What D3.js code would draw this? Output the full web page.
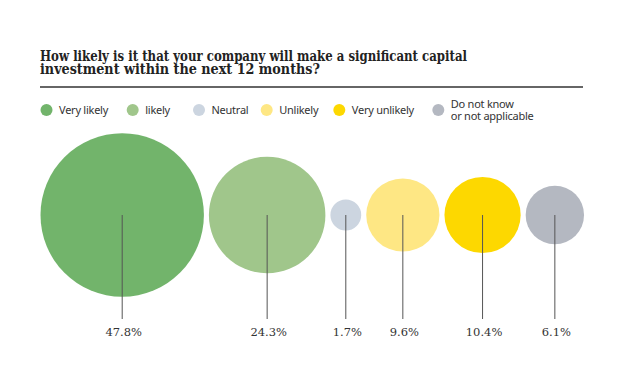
<!DOCTYPE html>
<html>
<head>
<meta charset="utf-8">
<script src="https://cdn.jsdelivr.net/npm/d3@7"></script>
<style>
  html, body { margin: 0; padding: 0; background: #fff; }
  svg { display: block; }
</style>
</head>
<body>
<svg id="chart" width="620" height="383"></svg>
<script>
// ---- data ----
const categories = ["Very likely", "likely", "Neutral", "Unlikely", "Very unlikely", "Do not know or not applicable"];
const legendLines = [["Very likely"], ["likely"], ["Neutral"], ["Unlikely"], ["Very unlikely"], ["Do not know", "or not applicable"]];
const shares = [47.8, 24.3, 1.7, 9.6, 10.4, 6.1];
const valueLabels = ["47.8%", "24.3%", "1.7%", "9.6%", "10.4%", "6.1%"];
const colours = ["#72b46b", "#a0c68b", "#ccd5e0", "#fee784", "#fdd800", "#b4b8c1"];
const titleLines = [
    "How likely is it that your company will make a significant capital",
    "investment within the next 12 months?"
];

const svg = d3.select("#chart");

// title, fitted to the width it has in the original
const titleWidths = [427, 280];
const title = svg.append("text")
    .attr("font-family", "'DejaVu Serif', serif")
    .attr("font-weight", "bold")
    .attr("font-size", 14)
    .attr("fill", "#222");
titleLines.forEach((l, i) => {
    title.append("tspan")
        .attr("x", 40).attr("y", 60.5 + i * 13)
        .attr("textLength", titleWidths[i])
        .attr("lengthAdjust", "spacingAndGlyphs")
        .text(l);
});

svg.append("line")
    .attr("x1", 40).attr("x2", 583)
    .attr("y1", 87).attr("y2", 87)
    .attr("stroke", "#333").attr("stroke-width", 1.5);

// legend
const legendX = [46.5, 132.7, 199, 266.7, 339.3, 438.3];
const legend = svg.append("g")
    .attr("font-family", "'Noto Sans', sans-serif")
    .attr("font-size", 11)
    .attr("letter-spacing", -0.25)
    .attr("fill", "#333");

categories.forEach((c, i) => {
    const g = legend.append("g").attr("transform", `translate(${legendX[i]},110)`);
    g.append("circle").attr("r", 6).attr("fill", colours[i]);
    const lines = legendLines[i];
    const t = g.append("text");
    lines.forEach((l, j) => {
        t.append("tspan")
            .attr("x", 12.5)
            .attr("y", lines.length === 1 ? 4 : -2 + j * 12)
            .text(l);
    });
});

// bubbles: area proportional to share
const r = d3.scaleSqrt().domain([0, d3.max(shares)]).range([0, 81.7]);
const gap = 5;
const centres = [];
let cursor = 40.5;
shares.forEach(v => {
    centres.push(cursor + r(v));
    cursor += 2 * r(v) + gap;
});

const cy = 215;
const bubbles = svg.append("g");
bubbles.selectAll("circle")
    .data(shares)
    .join("circle")
    .attr("cx", (d, i) => centres[i])
    .attr("cy", cy)
    .attr("r", d => r(d))
    .attr("fill", (d, i) => colours[i]);

bubbles.selectAll("line")
    .data(shares)
    .join("line")
    .attr("x1", (d, i) => centres[i])
    .attr("x2", (d, i) => centres[i])
    .attr("y1", cy)
    .attr("y2", 319)
    .attr("stroke", "#555")
    .attr("stroke-width", 1);

bubbles.selectAll("text")
    .data(valueLabels)
    .join("text")
    .attr("x", (d, i) => centres[i] + 1.5)
    .attr("y", 336)
    .attr("text-anchor", "middle")
    .attr("font-family", "'DejaVu Serif', serif")
    .attr("font-size", 11.5)
    .attr("fill", "#333")
    .text(d => d);
</script>
</body>
</html>
